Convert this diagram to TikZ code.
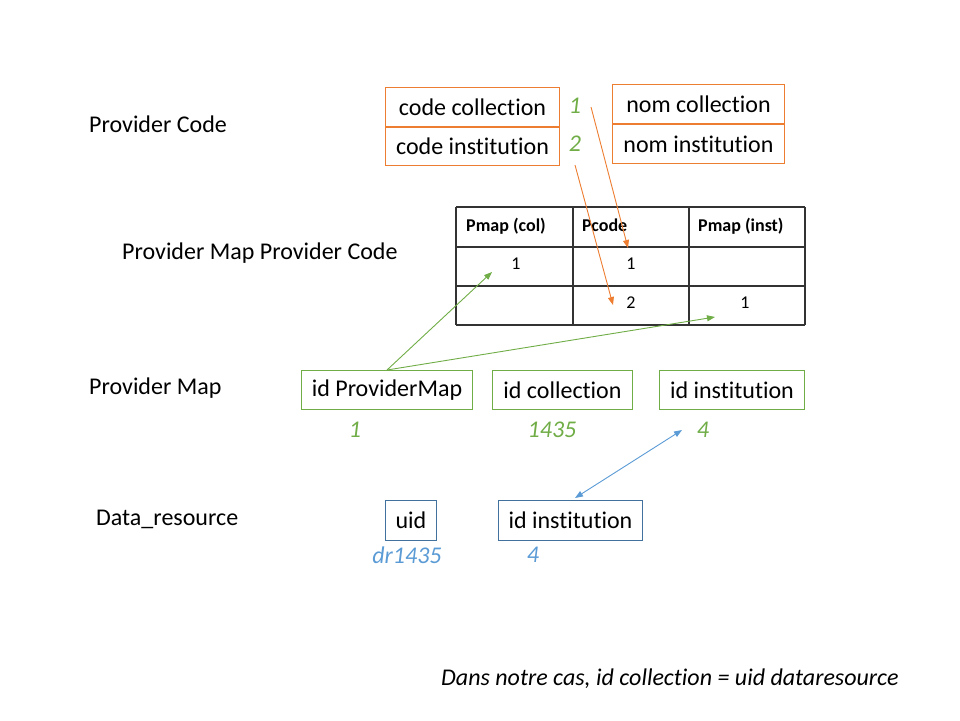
\documentclass[tikz,border=0pt]{standalone}
\usepackage{fontspec}
\setmainfont{Carlito}[Ligatures={TeX,NoCommon}]
\usetikzlibrary{positioning,arrows.meta}
\definecolor{orangeline}{HTML}{ED7D31}
\definecolor{greenline}{HTML}{70AD47}
\definecolor{blueline}{HTML}{41719C}
\definecolor{bluetext}{HTML}{5B9BD5}
\tikzset{
  big/.style={font=\fontsize{24}{28}\selectfont},
  small/.style={font=\fontsize{18}{22}\selectfont},
  rowlabel/.style={big, anchor=west, inner sep=0pt},
  fieldbox/.style={big, draw=#1, line width=1pt, inner sep=0pt, anchor=north west},
  idnum/.style={big, text=#1, font=\fontsize{24}{28}\selectfont\itshape, inner sep=0pt},
  tabline/.style={draw=black!80, line width=1.3pt},
  link/.style={draw=#1, line width=0.9pt, -{Triangle[length=8pt,width=6pt]}}
}

\begin{document}
\begin{tikzpicture}[x=1pt,y=-1pt]
\useasboundingbox (0,0) rectangle (960,720);

% row labels
\node[rowlabel] (lcode) at (89,124) {Provider Code};
\node[rowlabel] (lmapcode) at (122,253) {Provider Map Provider Code};
\node[rowlabel] (lmap) at (89,388) {Provider Map};
\node[rowlabel] (ldata) at (96,519) {Data\_resource};

% provider code
\node[fieldbox=orangeline, minimum width=174pt, minimum height=39pt] (codecol) at (385,87) {code collection};
\node[fieldbox=orangeline, minimum width=174pt, minimum height=38pt, below=0pt of codecol] (codeinst) {code institution};
\node[fieldbox=orangeline, minimum width=172pt, minimum height=39pt] (nomcol) at (612,84) {nom collection};
\node[fieldbox=orangeline, minimum width=172pt, minimum height=39pt, below=0pt of nomcol] (nominst) {nom institution};
\node[idnum=greenline] (ncol) at (575,106) {1};
\node[idnum=greenline] (ninst) at (575,144) {2};

% provider map provider code
\foreach \x in {456,573,689,805} \draw[tabline] (\x,207) -- (\x,325);
\foreach \y in {207,247,286,325} \draw[tabline] (456,\y) -- (805,\y);
\foreach \x/\t in {466/Pmap (col),582/Pcode,698/Pmap (inst)}
  \node[small, font=\fontsize{18}{22}\selectfont\bfseries, anchor=base west, inner sep=0pt] at (\x,231) {\t};
\node[small] (cpmap) at (516,264) {1};
\node[small] (cpcode) at (631,264) {1};
\node[small] (cpcodeb) at (631,303) {2};
\node[small] (cpinst) at (745,303) {1};

% provider map
\node[fieldbox=greenline, minimum width=171pt, minimum height=39pt] (pmap) at (301,370) {id ProviderMap};
\node[fieldbox=greenline, minimum width=140pt, minimum height=39pt] (pcol) at (492,370) {id collection};
\node[fieldbox=greenline, minimum width=145pt, minimum height=39pt] (pinst) at (659,370) {id institution};
\node[idnum=greenline] (npmap) at (355,430) {1};
\node[idnum=greenline] (npcol) at (552,430) {1435};
\node[idnum=greenline] (npinst) at (703,430) {4};

% data resource
\node[fieldbox=blueline, minimum width=51pt, minimum height=40pt] (duid) at (385,500) {uid};
\node[fieldbox=blueline, minimum width=144pt, minimum height=40pt] (dinst) at (498,500) {id institution};
\node[idnum=bluetext] (nduid) at (407,555) {dr1435};
\node[idnum=bluetext] (ndinst) at (533,555) {4};

% links
\coordinate (ocolstart) at (591,107);
\coordinate (ocolend) at (628,248);
\coordinate (oinststart) at (575,165);
\coordinate (oinstend) at (613,305);
\coordinate (gcolend) at (492,272);
\coordinate (ginstend) at (715,317);
\coordinate (binst) at (682,430);
\coordinate (bdata) at (575,498);
\draw[link=orangeline] (ocolstart) -- (ocolend);
\draw[link=orangeline] (oinststart) -- (oinstend);
\draw[link=greenline] (pmap.north) -- (gcolend);
\draw[link=greenline] (pmap.north) -- (ginstend);
\draw[link=bluetext, {Triangle[length=8pt,width=6pt]}-{Triangle[length=8pt,width=6pt]}] (binst) -- (bdata);

\node[big, font=\fontsize{24}{28}\selectfont\itshape, anchor=west, inner sep=0pt] (note) at (441,679) {Dans notre cas, id collection = uid dataresource};
\end{tikzpicture}
\end{document}
